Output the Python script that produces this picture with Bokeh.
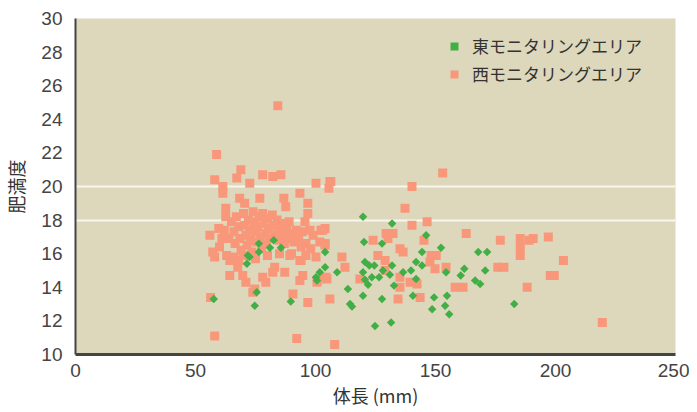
import math
from bokeh.plotting import figure
from bokeh.models import FixedTicker, Legend, LegendItem, ColumnDataSource
from bokeh.embed import file_html
from bokeh.resources import INLINE

# ---- data ----
x_ticks = [0, 50, 100, 150, 200, 250]
y_ticks = [10, 12, 14, 16, 18, 20, 22, 24, 26, 28, 30]
ref_lines = [18, 20]
series_names = ["東モニタリングエリア", "西モニタリングエリア"]

west_x = [58.8, 68.9, 67.2, 58.0, 61.4, 61.4, 72.6, 78.0, 82.2, 85.6, 100.2, 106.0, 93.5, 68.4, 70.5,
          76.8, 86.8, 87.6, 96.8, 96.8, 62.6, 62.6, 95.6, 59.7, 56.0, 97.7, 102.3, 99.0, 94.5, 104.0,
          84.3,
          57.2, 58.0, 64.3, 64.3, 67.6, 69.7, 71.0, 73.9, 74.7, 78.0, 79.3, 83.0, 82.2, 87.2, 89.3,
          93.5, 94.7, 93.5, 100.2, 100.6, 104.3, 106.0, 96.8, 90.6, 56.3, 58.0, 92.2, 108.0,
          65, 66, 66.5, 67, 68, 68.5, 69, 70, 70.5, 71, 71.5, 72, 72.5, 73, 73.5, 74, 74.5, 75, 75.5,
          76, 76.5, 77, 77.5, 78, 78.5, 79, 79.5, 80, 80.5, 81, 82, 82.5, 83, 84, 84.5, 85, 86, 86.5,
          87, 88, 88.5, 89, 90, 91, 92, 93, 94, 64, 63, 66, 60, 61, 68, 70, 75, 80, 85, 62, 90, 96,
          98, 96,
          153, 106.4, 105.6, 140.2, 137.3, 140.2, 146.5, 104, 104, 124, 129.4, 132.3, 130.2, 145.2,
          162.8, 135.2, 136.5, 111, 126, 129, 148.2, 150.3, 147.7, 112.3, 129, 149.8, 154.4, 104.8,
          118.5, 135.2, 135.2, 139.4, 142.3, 158.2, 161.5, 134.4, 143.6, 101, 94, 101.8, 103,
          177, 185.3, 185.3, 185.3, 189, 190.7, 197, 203.3, 176, 178.5, 197.8, 199.5, 188.2, 219.5]
west_y = [21.9, 21.0, 20.5, 20.4, 20.0, 19.6, 20.2, 20.7, 20.6, 20.7, 20.2, 20.3, 19.6, 19.3, 19.0,
          19.3, 19.3, 18.8, 19.0, 18.4, 18.7, 18.2, 17.9, 17.5, 17.1, 17.4, 17.4, 17.1, 17.3, 16.5,
          24.8,
          16.1, 15.8, 15.6, 14.7, 15.2, 14.7, 14.3, 13.7, 13.9, 14.6, 14.3, 15.2, 14.9, 14.9, 15.9,
          15.6, 14.7, 14.4, 15.8, 14.3, 14.6, 13.3, 13.1, 13.6, 13.4, 11.1, 10.95, 10.6,
          17.9, 17.3, 16.6, 18.2, 17.6, 16.9, 16.2, 18.4, 17.7, 17.1, 16.5, 18.0, 17.4, 16.8, 16.1,
          18.5, 17.9, 17.3, 16.7, 17.6, 18.2, 17.0, 16.3, 18.4, 17.8, 17.2, 16.6, 18.1, 17.5, 16.9,
          18.3, 17.7, 17.1, 18.0, 17.4, 16.8, 17.8, 17.2, 16.6, 17.5, 16.9, 17.9, 17.2, 16.7, 17.4,
          16.9, 16.4, 16.9, 15.9, 15.8, 16.4, 16.9, 15.6, 15.9, 15.7, 15.9, 16.0, 17.4, 16.0, 16.6,
          16.3, 15.9,
          20.8, 20.3, 19.9, 20.0, 18.7, 17.7, 17.9, 17.5, 16.6, 16.8, 17.2, 17.2, 16.9, 16.8,
          17.2, 16.3, 16.1, 15.8, 15.9, 15.6, 15.9, 15.9, 15.5, 15.2, 15.0, 15.1, 15.2, 14.5,
          14.5, 14.6, 14.0, 14.3, 14.2, 14.0, 14.0, 13.3, 13.4, 14.45, 15.6, 16.7, 17.4,
          16.8, 16.9, 16.4, 15.9, 16.8, 16.9, 17.0, 15.6, 15.2, 15.2, 14.7, 14.7, 14.0, 11.9]

east_x = [57.6, 74.7, 75.5, 71.4, 71.8, 72.5, 76.4, 76.4, 81.0, 82.6, 85.6, 89.7, 100.2, 100.6,
          101.8, 104.0, 104.0, 109.0, 113.5, 114.4, 115.2, 119.8, 131.9, 146.1, 120.2, 127.7,
          152.3, 144.4, 167.8, 171.5, 120.6, 122.4, 124.5, 131.9, 141.9, 144.4, 128.1, 119.8,
          120.6, 123.5, 126.5, 121.9, 131.0, 136.5, 139.8, 141.9, 132.7, 154.4, 160.5, 162.0,
          170.7, 166.5, 168.6, 119.8, 127.7, 140.6, 149.4, 154.8, 148.6, 154.0, 155.7, 131.5,
          124.8, 182.8]
east_y = [13.3, 12.9, 13.7, 15.4, 15.9, 15.8, 16.1, 16.6, 16.35, 16.8, 16.35, 13.15, 14.6, 14.4,
          14.9, 15.2, 16.1, 14.9, 13.9, 13.0, 12.85, 18.2, 17.8, 17.1, 16.7, 16.6,
          16.35, 16.1, 16.1, 16.1, 15.5, 15.3, 15.3, 15.3, 15.5, 15.3, 15.0, 14.9,
          14.45, 14.6, 14.6, 14.15, 14.75, 14.9, 15.0, 14.5, 14.1, 14.9, 14.7, 15.1,
          15.0, 14.4, 14.2, 13.5, 13.3, 13.5, 13.4, 13.5, 12.7, 12.9, 12.4, 11.9,
          11.7, 13.0]

# ---- figure ----
p = figure(frame_width=600, frame_height=336, x_range=(0, 250), y_range=(10, 30),
           output_backend="svg", toolbar_location=None,
           min_border_left=73, min_border_right=14, min_border_top=18, min_border_bottom=48,
           background_fill_color="#DDD8BC", border_fill_color="white")
p.outline_line_color = None

p.xgrid.grid_line_color = None
p.ygrid.ticker = FixedTicker(ticks=ref_lines)
p.ygrid.grid_line_color = "#F8F6EE"
p.ygrid.grid_line_width = 2

for ax, ticks in ((p.xaxis[0], x_ticks), (p.yaxis[0], y_ticks)):
    ax.ticker = FixedTicker(ticks=ticks)
    ax.major_tick_line_color = None
    ax.minor_tick_line_color = None
    ax.major_label_text_font = "Liberation Sans"
    ax.major_label_text_font_size = "19px"
    ax.major_label_text_color = "#444444"
    ax.axis_label_text_font = "Noto Sans CJK JP"
    ax.axis_label_text_font_size = "18px"
    ax.axis_label_text_font_style = "normal"
    ax.axis_label_text_color = "#333333"
    ax.axis_line_color = "#444444"

p.xaxis.axis_label = "体長 (mm)"
p.yaxis.axis_label = "肥満度"
p.xaxis.axis_line_width = 3
p.yaxis.axis_line_width = 2
p.xaxis.major_label_standoff = 3
p.xaxis.axis_label_standoff = 2
p.yaxis.major_label_standoff = 7
p.yaxis.axis_label_standoff = 9

west_src = ColumnDataSource(dict(x=west_x, y=west_y))
east_src = ColumnDataSource(dict(x=east_x, y=east_y))

r_w = p.scatter("x", "y", source=west_src, marker="square", size=9,
                fill_color="#F8977A", line_color=None)
r_e = p.scatter("x", "y", source=east_src, marker="square", size=6, angle=math.pi / 4,
                fill_color="#42AE46", line_color=None)

legend = Legend(items=[LegendItem(label=series_names[0], renderers=[r_e]),
                       LegendItem(label=series_names[1], renderers=[r_w])],
                location=(369, 268), padding=0, margin=0, spacing=3,
                label_standoff=8, glyph_width=20, glyph_height=20, label_height=20,
                background_fill_alpha=0, border_line_color=None,
                label_text_font="Noto Sans CJK JP", label_text_font_size="17px",
                label_text_color="#333333")
p.add_layout(legend)

open("out.html", "w").write(file_html(p, INLINE))
